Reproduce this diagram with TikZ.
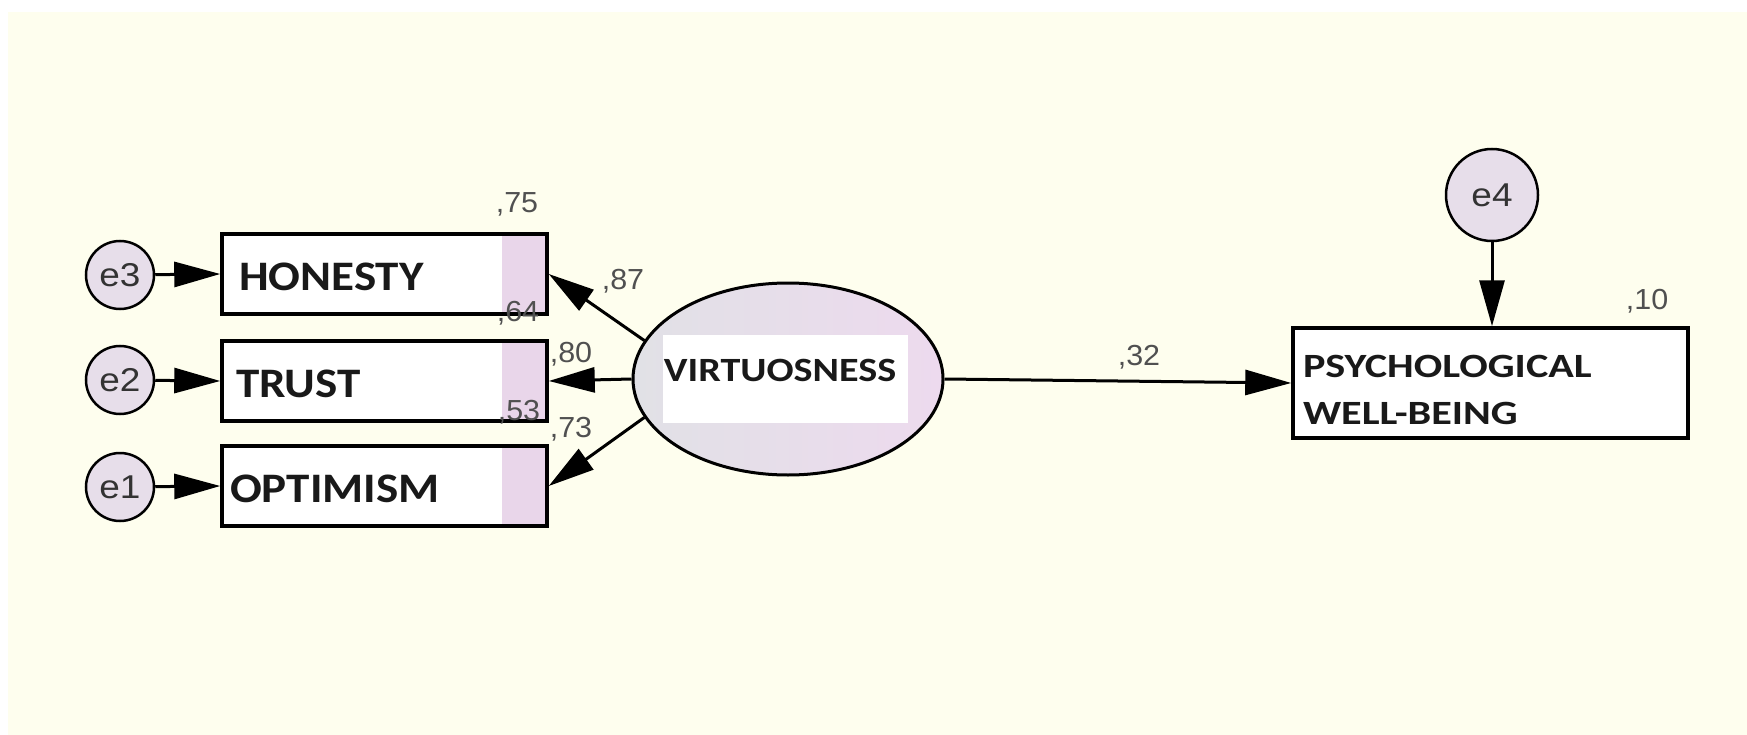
\documentclass[tikz,border=0pt]{standalone}
\usepackage{fontspec}
\setmainfont{Carlito}
\newfontfamily\boxfont[FakeStretch=1.12]{Carlito}
\newfontfamily\virfont[FakeStretch=1.18]{Carlito}
\newfontfamily\pwbfont[FakeStretch=1.24]{Carlito}
\newfontfamily\numfont[FakeStretch=1.05]{Liberation Sans}
\newfontfamily\efont[FakeStretch=1.12]{Liberation Sans}
\usetikzlibrary{shapes.geometric,arrows.meta,calc}
\definecolor{cream}{RGB}{254,254,238}
\definecolor{pinkstrip}{RGB}{233,214,234}
\definecolor{ecirc}{RGB}{231,222,234}
\definecolor{numgray}{RGB}{80,80,80}
\definecolor{ellgray}{RGB}{225,225,230}
\definecolor{ellpink}{RGB}{237,218,238}
\tikzset{
  errc/.style={circle, draw, line width=2.5pt, fill=ecirc, minimum size=68pt, inner sep=0pt,
    font=\efont\fontsize{33}{33}\selectfont, text=black!80},
  obs/.style={rectangle, draw, line width=3.5pt, fill=white, minimum width=325pt, minimum height=80pt,
    text width=305pt, align=left, inner xsep=10pt, inner ysep=0pt, text height=33pt, text depth=0pt,
    font=\boxfont\bfseries\fontsize{42}{42}\selectfont, text=black!90,
    path picture={\fill[pinkstrip] ([xshift=-45pt]path picture bounding box.north east) rectangle (path picture bounding box.south east);}},
  latent/.style={ellipse, draw, line width=3pt, minimum width=310pt, minimum height=192pt, inner sep=0pt,
    left color=ellgray, right color=ellpink,
    path picture={\fill[white] ([shift={(-125pt,44pt)}]path picture bounding box.center) rectangle ([shift={(120pt,-44pt)}]path picture bounding box.center);}},
  vtext/.style={font=\virfont\bfseries\fontsize{34}{34}\selectfont, text=black!90, inner sep=0pt},
  endo/.style={rectangle, draw, line width=3.5pt, fill=white, minimum width=395pt, minimum height=110pt,
    text width=375pt, align=left, inner xsep=10pt, inner ysep=0pt,
    font=\pwbfont\bfseries\fontsize{34}{47}\selectfont, text=black!90},
  arr/.style={-{Triangle[length=46pt,width=25pt]}, line width=3pt},
  lab/.style={font=\numfont\fontsize{29}{29}\selectfont, text=numgray, inner sep=0pt, anchor=base}
}
\begin{document}
\begin{tikzpicture}[x=1pt,y=-1pt]
\useasboundingbox (0,0) rectangle (1747,735);
\fill[white] (0,0) rectangle (1747,735);
\fill[cream] (8,12) rectangle (1747,735);

% observed boxes
\node[obs] (hon) at (384.5,274) {\hspace*{7pt}HONESTY};
\node[obs] (tru) at (384.5,381) {\hspace*{4pt}TRUST};
\node[obs] (opt) at (384.5,486) {\hspace*{-2pt}OPTIMISM};

% error circles
\node[errc] (e3) at (120,275) {e3};
\node[errc] (e2) at (120,380) {e2};
\node[errc] (e1) at (120,487) {e1};

% latent
\node[latent] (vir) at (788,379) {};
\node[vtext] (vtx) at (780,370) {VIRTUOSNESS};

% outcome
\node[endo] (pwb) at (1490.5,383) {\rule{0pt}{36pt}PSYCHOLOGICAL\\WELL-BEING};
\node[errc, minimum size=92pt] (e4) at (1492,195) {e4};

% arrows
\draw[arr] (e3) -- (hon.west);
\draw[arr] (e2) -- (tru.west);
\draw[arr] (e1) -- (opt.west);
\draw[arr] (vir.165) -- (hon.east);
\draw[arr] (vir.west) -- (tru.east);
\draw[arr] (vir.195) -- (opt.east);
\draw[arr] (vir.east) -- (pwb.west);
\draw[arr] (e4.south) -- (e4.south |- pwb.north);

% labels
\node[lab] (l75) at (517,213) {,75};
\node[lab] (l64) at (518,321) {,64};
\node[lab] (l53) at (519,420) {,53};
\node[lab] (l87) at (623,290) {,87};
\node[lab] (l80) at (571,362) {,80};
\node[lab] (l73) at (571,437) {,73};
\node[lab] (l32) at (1139,365) {,32};
\node[lab] (l10) at (1647,309) {,10};
\end{tikzpicture}
\end{document}
